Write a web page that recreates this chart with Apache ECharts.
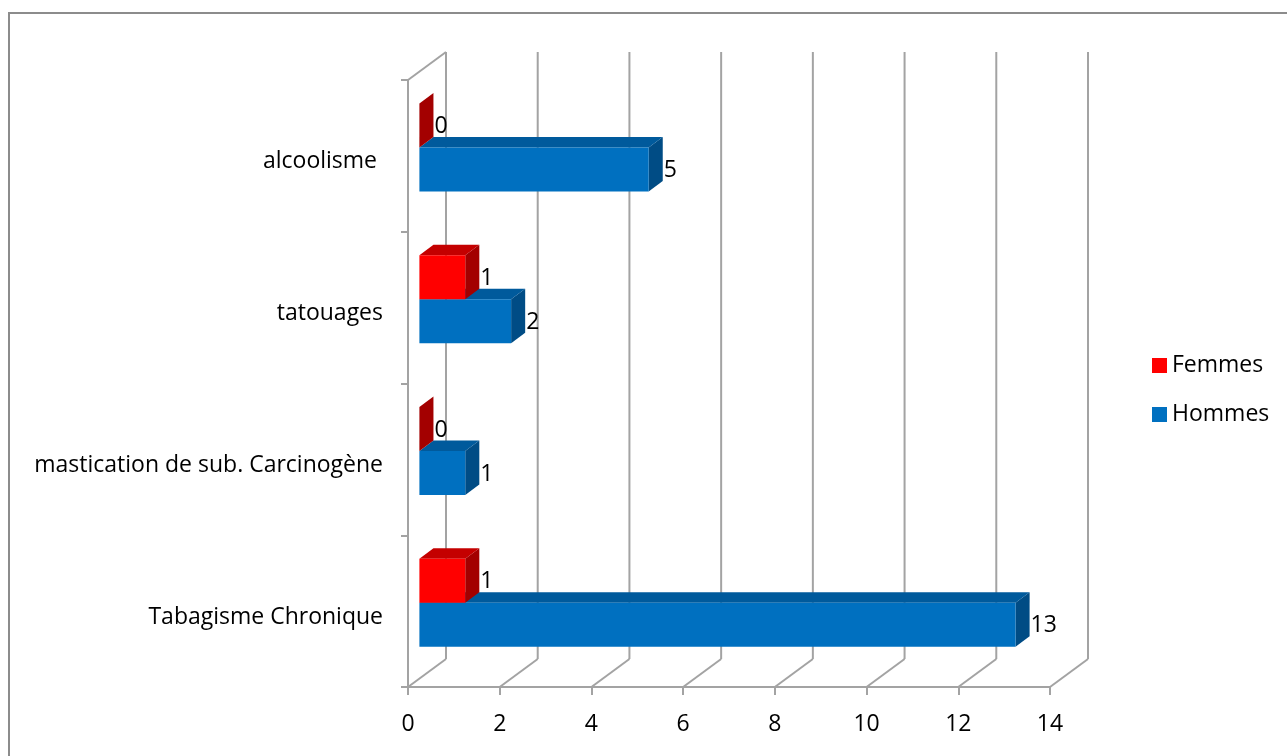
<!DOCTYPE html>
<html>
<head>
<meta charset="utf-8">
<script src="https://cdn.jsdelivr.net/npm/echarts@6/dist/echarts.min.js"></script>
<style>
  html, body { margin: 0; padding: 0; background: #ffffff; }
  #chart { width: 1287px; height: 756px; }
</style>
</head>
<body>
<div id="chart"></div>
<script>
// Risk factors by sex (3D clustered horizontal bars)
const categories = ['Tabagisme Chronique', 'mastication de sub. Carcinogène', 'tatouages', 'alcoolisme '];
const seriesNames = ['Femmes', 'Hommes'];
const femmes = [1, 0, 1, 0];
const hommes = [13, 1, 2, 5];
const xTicks = [0, 2, 4, 6, 8, 10, 12, 14];

const FONT = '"Open Sans", "Noto Sans", sans-serif';
const FONT_SIZE = 23;

// Depth projection of the plot box (back wall offset) and of the bars
const WALL = { dx: 38, dy: -28 };
const BAR_FRONT = 0.30;   // bars start this far into the depth
const BAR_DEPTH = 0.37;   // bar thickness as a share of the depth
const BAR_H = 0.29;       // bar height as a share of the category band

const palette = {
  Femmes: { front: '#ff0000', top: '#c40000', side: '#a30000' },
  Hommes: { front: '#0070c0', top: '#005a9c', side: '#004c85' }
};

const chart = echarts.init(document.getElementById('chart'));

function frameRenderer(params, api) {
  const lineStyle = { stroke: '#a3a3a3', lineWidth: 2 };
  const cs = params.coordSys;
  const topY = cs.y;
  const botY = cs.y + cs.height;
  const children = [];
  xTicks.forEach(function (t) {
    const x = api.coord([t, 0])[0];
    // floor diagonal
    children.push({ type: 'line', shape: { x1: x, y1: botY, x2: x + WALL.dx, y2: botY + WALL.dy }, style: lineStyle });
    // back wall gridline
    children.push({ type: 'line', shape: { x1: x + WALL.dx, y1: botY + WALL.dy, x2: x + WALL.dx, y2: topY + WALL.dy }, style: lineStyle });
  });
  // top edge of the side wall
  const x0 = cs.x;
  children.push({ type: 'line', shape: { x1: x0, y1: topY, x2: x0 + WALL.dx, y2: topY + WALL.dy }, style: lineStyle });
  return { type: 'group', children: children };
}

function barRenderer(name, upper) {
  const c = palette[name];
  return function (params, api) {
    const v = api.value(0);
    const ci = api.value(1);
    const p0 = api.coord([0, ci]);
    const p1 = api.coord([v, ci]);
    const band = api.size([0, 1])[1];
    const h = band * BAR_H;
    const fx = WALL.dx * BAR_FRONT, fy = WALL.dy * BAR_FRONT;
    const bx = WALL.dx * BAR_DEPTH, by = WALL.dy * BAR_DEPTH;
    const yc = p0[1] + fy;
    const top = upper ? yc - h : yc;
    const xa = p0[0] + fx, xb = p1[0] + fx;
    return {
      type: 'group',
      children: [
        { type: 'polygon', shape: { points: [[xb, top], [xb + bx, top + by], [xb + bx, top + h + by], [xb, top + h]] }, style: { fill: c.side } },
        { type: 'polygon', shape: { points: [[xa, top], [xa + bx, top + by], [xb + bx, top + by], [xb, top]] }, style: { fill: c.top } },
        { type: 'rect', shape: { x: xa, y: top, width: xb - xa, height: h }, style: { fill: c.front } },
        { type: 'text', x: xb + bx + 1, y: top + h / 2 + 1,
          style: { text: String(v), fill: '#000', font: FONT_SIZE + 'px ' + FONT, textAlign: 'left', textVerticalAlign: 'middle' } }
      ]
    };
  };
}

const option = {
  animation: false,
  backgroundColor: '#ffffff',
  graphic: [{
    type: 'rect', silent: true,
    shape: { x: 9, y: 13, width: 1400, height: 900 },
    style: { fill: 'none', stroke: '#8c8c8c', lineWidth: 2 }
  }],
  grid: { left: 408, top: 80, width: 642, height: 607, containLabel: false },
  legend: {
    data: seriesNames,
    orient: 'vertical',
    left: 1152,
    top: 354,
    padding: 0,
    icon: 'rect',
    itemWidth: 15,
    itemHeight: 15,
    itemGap: 26,
    textStyle: { color: '#000', fontSize: FONT_SIZE, fontFamily: FONT, lineHeight: 23 }
  },
  xAxis: {
    type: 'value',
    min: 0,
    max: 14,
    interval: 2,
    axisLine: { show: true, lineStyle: { color: '#a3a3a3', width: 2 } },
    axisTick: { show: true, length: 8, lineStyle: { color: '#a3a3a3', width: 2 } },
    splitLine: { show: false },
    axisLabel: { color: '#000', fontSize: FONT_SIZE, fontFamily: FONT, margin: 26 }
  },
  yAxis: {
    type: 'category',
    data: categories,
    axisLine: { show: true, lineStyle: { color: '#a3a3a3', width: 2 } },
    axisTick: { show: true, length: 7, lineStyle: { color: '#a3a3a3', width: 2 } },
    axisLabel: { color: '#000', fontSize: FONT_SIZE, fontFamily: FONT, margin: 25, verticalAlign: 'top', lineHeight: 12 }
  },
  series: [
    {
      type: 'custom', name: 'frame', silent: true, z: 1,
      renderItem: frameRenderer,
      data: [[0, 0]]
    },
    {
      type: 'custom', name: 'Hommes', z: 2,
      itemStyle: { color: palette.Hommes.front },
      renderItem: barRenderer('Hommes', false),
      data: hommes.map(function (v, i) { return [v, i]; })
    },
    {
      type: 'custom', name: 'Femmes', z: 3,
      itemStyle: { color: palette.Femmes.front },
      renderItem: barRenderer('Femmes', true),
      data: femmes.map(function (v, i) { return [v, i]; })
    }
  ]
};

chart.setOption(option);
</script>
</body>
</html>
